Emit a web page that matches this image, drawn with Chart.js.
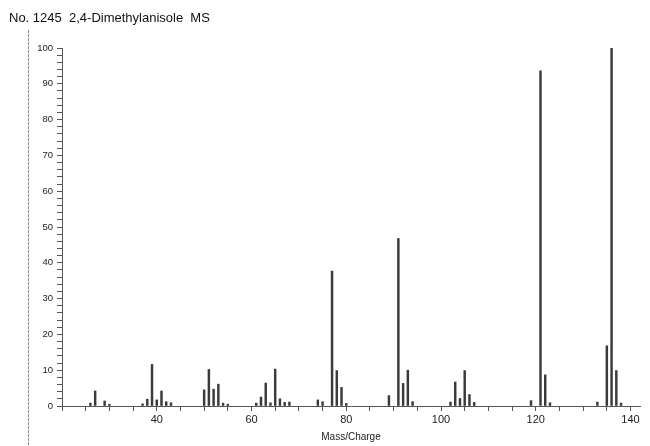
<!DOCTYPE html>
<html>
<head>
<meta charset="utf-8">
<script src="https://cdn.jsdelivr.net/npm/chart.js@4/dist/chart.umd.min.js"></script>
<style>
  html, body { margin: 0; padding: 0; background: #fff; }
  #wrap { position: relative; width: 650px; height: 446px; }
  #title {
    position: absolute; left: 9px; top: 10px;
    font: 13px "Liberation Sans", Arial, sans-serif;
    color: #111; white-space: pre;
  }
  canvas { position: absolute; left: 0; top: 0; }
</style>
</head>
<body>
<div id="wrap">
  <canvas id="msChart" width="650" height="446"></canvas>
  <div id="title">No. 1245  2,4-Dimethylanisole  MS</div>
</div>
<script>
// m/z values and relative intensities
var masses = [26, 27, 29, 30, 37, 38, 39, 40, 41, 42, 43,
              50, 51, 52, 53, 54, 55, 61, 62, 63, 64, 65, 66, 67, 68,
              74, 75, 77, 78, 79, 80, 89, 91, 92, 93, 94,
              102, 103, 104, 105, 106, 107, 119, 121, 122, 123,
              133, 135, 136, 137, 138];
var intensities = [0.8, 4.2, 1.4, 0.5, 0.6, 1.9, 11.6, 1.7, 4.2, 1.2, 0.9,
                   4.5, 10.2, 4.7, 6.1, 0.8, 0.5, 0.8, 2.5, 6.4, 0.9, 10.3, 2.0, 1.0, 1.1,
                   1.7, 1.2, 37.7, 9.9, 5.2, 0.7, 2.9, 46.8, 6.3, 10.0, 1.2,
                   1.1, 6.7, 2.1, 9.9, 3.2, 1.0, 1.5, 93.6, 8.7, 0.9,
                   1.1, 16.8, 100, 9.9, 0.8];
var yTicks = [0, 10, 20, 30, 40, 50, 60, 70, 80, 90, 100];
var xTicks = [40, 60, 80, 100, 120, 140];

var points = masses.map(function(m, i) { return { x: m, y: intensities[i] }; });

// scan artifact: faint vertical rule at the far left
var leftRule = {
  id: "leftRule",
  beforeDraw: function(chart) {
    var ctx = chart.ctx;
    ctx.save();
    ctx.strokeStyle = "#8a8a8a";
    ctx.lineWidth = 1;
    ctx.setLineDash([3, 1]);
    ctx.beginPath();
    ctx.moveTo(28.5, 30);
    ctx.lineTo(28.5, 446);
    ctx.stroke();
    ctx.restore();
  }
};

var axisColor = "#555";
var labelColor = "#222";

new Chart(document.getElementById("msChart"), {
  type: "bar",
  data: {
    datasets: [{
      data: points,
      backgroundColor: "#3a3a3a",
      borderWidth: 0,
      barThickness: 1.8
    }]
  },
  options: {
    responsive: false,
    animation: false,
    layout: { padding: { left: 0, top: 48, right: 10, bottom: 0 } },
    plugins: {
      legend: { display: false },
      tooltip: { enabled: false }
    },
    scales: {
      x: {
        type: "linear",
        min: 20, max: 142,
        offset: false,
        afterFit: function(scale) { scale.height = 40; },
        ticks: {
          stepSize: 5,
          includeBounds: false,
          autoSkip: false,
          maxRotation: 0,
          padding: 2,
          color: labelColor,
          font: { size: 11, family: "Liberation Sans, Arial, sans-serif" },
          callback: function(v) { return xTicks.indexOf(v) >= 0 ? String(v) : ""; }
        },
        grid: {
          drawOnChartArea: false,
          offset: false,
          tickLength: 5,
          tickColor: axisColor
        },
        border: { color: axisColor, width: 1 },
        title: {
          display: true,
          text: "Mass/Charge",
          color: labelColor,
          font: { size: 10, family: "Liberation Sans, Arial, sans-serif" },
          padding: { top: 0, bottom: 3 }
        }
      },
      y: {
        min: 0, max: 100,
        afterFit: function(scale) { scale.width = 62; },
        ticks: {
          stepSize: 2,
          autoSkip: false,
          padding: 4,
          color: labelColor,
          font: { size: 9.5, family: "Liberation Sans, Arial, sans-serif" },
          callback: function(v) { return yTicks.indexOf(v) >= 0 ? String(v) : ""; }
        },
        grid: {
          drawOnChartArea: false,
          tickLength: 5,
          tickColor: axisColor
        },
        border: { color: axisColor, width: 1 }
      }
    }
  },
  plugins: [leftRule]
});
</script>
</body>
</html>
